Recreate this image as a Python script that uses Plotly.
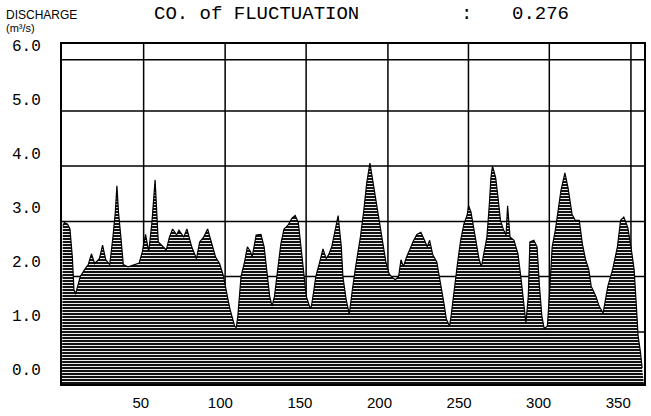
import plotly.graph_objects as go

# Day of year and daily discharge (m3/s)
days = [1, 2, 4, 5.5, 7, 8, 9, 12, 15, 17, 19, 21, 24, 26, 28, 30.5, 32.5, 34, 35, 36, 37.5, 39, 42, 46, 49,
        51, 53, 55, 57, 59, 60, 61, 64, 66, 68, 70, 72.5, 74, 77, 79, 82, 85, 87, 89.5, 92, 94.5, 97, 99.5,
        102, 104, 106, 109, 110, 111, 113, 115, 117, 119, 120, 122.5, 125.5, 127.5, 129.5, 131, 132.5, 134,
        135.5, 138, 140, 142.5, 145, 147, 149, 150, 152, 154, 156, 157, 158.5, 160, 162, 164.5, 166.5, 168,
        170, 172, 174, 176, 177, 179, 181, 183, 184, 185, 187, 188, 190, 192, 194, 195, 196.5, 198, 199.5,
        201.5, 204, 206, 208, 210, 212, 213.5, 215, 217, 219.5, 221.5, 223.5, 226, 228, 230, 231.5, 233.5,
        236, 238.5, 240.5, 242, 244, 245, 247, 249, 251, 253, 255, 256, 257.5, 259, 260.5, 262.5, 264, 265.5,
        267.5, 269, 270, 271, 273, 274.5, 276, 278, 279.5, 280.5, 282, 284.5, 287, 289, 291, 292, 293.5,
        294.5, 297, 299, 300.5, 302, 303.5, 305.5, 307, 308.5, 310.5, 312, 314, 316.5, 318.5, 321, 323,
        325.5, 327.5, 329.5, 331.5, 333, 336, 338, 340.5, 343.5, 346.5, 349.5, 351.5, 353.5, 356, 358, 360,
        361.5, 362.5, 364, 365]
discharge = [2.66, 2.72, 2.69, 2.60, 2.08, 1.48, 1.39, 1.72, 1.86, 1.94, 2.14, 1.96, 2.05, 2.30, 2.03, 1.94,
             2.45, 2.91, 3.40, 2.91, 2.45, 1.94, 1.90, 1.94, 1.97,
             2.18, 2.50, 2.18, 2.72, 3.51, 2.91, 2.36, 2.27, 2.21, 2.45, 2.60, 2.49, 2.58, 2.45, 2.60, 2.27,
             2.05, 2.36, 2.45, 2.60, 2.36, 2.08, 1.96,
             1.72, 1.41, 1.12, 0.80, 0.77, 0.99, 1.72, 1.96, 2.27, 2.18, 2.08, 2.49, 2.50, 2.27, 1.72, 1.35,
             1.17, 1.35,
             1.72, 2.32, 2.60, 2.67, 2.80, 2.85, 2.72, 2.45, 1.90, 1.35, 1.17, 1.13, 1.41, 1.72, 1.94, 2.23,
             2.05, 2.12,
             2.27, 2.54, 2.85, 2.27, 1.72, 1.30, 1.02, 1.48, 1.72, 1.90, 2.27, 2.45, 2.91, 3.46, 3.82, 3.64,
             3.36, 3.05, 2.76,
             2.39, 1.99, 1.77, 1.70, 1.66, 1.72, 2.03, 1.90, 2.08, 2.27, 2.39, 2.50, 2.54, 2.41, 2.27, 2.39,
             2.12,
             1.99, 1.59, 1.22, 0.93, 0.80, 0.99, 1.54, 1.96, 2.39, 2.69, 2.85, 3.03, 2.91, 2.63, 2.41, 2.05,
             1.90, 2.12,
             2.45, 3.05, 3.55, 3.77, 3.55, 3.18, 2.76, 2.58, 2.49, 3.03, 2.45, 2.39, 2.14, 1.66, 1.17, 0.86,
             1.35,
             2.36, 2.39, 2.27, 1.54, 0.99, 0.75, 0.80, 1.48, 2.27, 2.58, 2.94, 3.31, 3.64, 3.36, 2.87, 2.76,
             2.76, 2.32, 2.03, 1.85, 1.54, 1.35, 1.17, 1.04, 1.54, 1.85, 2.27, 2.76, 2.82, 2.63, 2.27, 1.85,
             1.12, 0.62, 0.31, 0.02]

y_ticks = [0, 1, 2, 3, 4, 5, 6]
y_tick_text = ["0.0", "1.0", "2.0", "3.0", "4.0", "5.0", "6.0"]
x_ticks = [50, 100, 150, 200, 250, 300, 350]
coef_fluct = "0.276"

# chart frame (axis units)
y_min, y_max = -0.274, 6.03
x_min, x_max = 0.5, 366.2
grid_y = [0.69, 1.72, 2.74, 3.77, 4.79, 5.74]
grid_x = [51.8, 103.0, 153.9, 205.3, 255.9, 306.7, 358.0]

fig = go.Figure()
fig.add_trace(go.Scatter(x=[x_min, x_max], y=[y_min, y_min], mode="lines",
                         line=dict(width=0, color="black"), showlegend=False, hoverinfo="skip"))
fig.add_trace(go.Scatter(x=days, y=discharge, mode="lines", fill="tonexty",
                         line=dict(color="black", width=1.2),
                         fillcolor="#121212",
                         fillpattern=dict(shape="-", fgcolor="#f0f0f0", bgcolor="#121212",
                                          size=3, solidity=0.33, fillmode="replace"),
                         showlegend=False))

for gy in grid_y:
    fig.add_shape(type="line", x0=x_min, x1=x_max, y0=gy, y1=gy, xref="x", yref="y",
                  line=dict(color="black", width=1.5), layer="below")
for gx in grid_x:
    fig.add_shape(type="line", x0=gx, x1=gx, y0=y_min, y1=y_max, xref="x", yref="y",
                  line=dict(color="black", width=1.5), layer="below")


def px(xp, yp):
    return (xp - 62) / (646 - 62), (389 - yp) / (389 - 44)


anns = []
ax, ay = px(4, 15)
anns.append(dict(text="DISCHARGE", x=ax, y=ay, xref="paper", yref="paper", xanchor="left",
                 yanchor="middle", showarrow=False,
                 font=dict(family="Liberation Sans", size=12, color="black")))
ax, ay = px(4, 28)
anns.append(dict(text="(m³/s)", x=ax, y=ay, xref="paper", yref="paper", xanchor="left",
                 yanchor="middle", showarrow=False,
                 font=dict(family="Liberation Sans", size=11, color="black")))
ax, ay = px(152, 14)
anns.append(dict(text="CO. of FLUCTUATION", x=ax, y=ay, xref="paper", yref="paper", xanchor="left",
                 yanchor="middle", showarrow=False,
                 font=dict(family="Liberation Mono, Courier New", size=19, color="black")))
ax, ay = px(468, 14)
anns.append(dict(text=":", x=ax, y=ay, xref="paper", yref="paper", xanchor="center",
                 yanchor="middle", showarrow=False,
                 font=dict(family="Liberation Mono, Courier New", size=19, color="black")))
ax, ay = px(512, 14)
anns.append(dict(text=coef_fluct, x=ax, y=ay, xref="paper", yref="paper", xanchor="left",
                 yanchor="middle", showarrow=False,
                 font=dict(family="Liberation Mono, Courier New", size=19, color="black")))

fig.update_layout(
    width=651, height=416,
    margin=dict(l=62, r=5, t=44, b=27),
    paper_bgcolor="white", plot_bgcolor="white",
    showlegend=False,
    xaxis=dict(range=[x_min, x_max], tickvals=x_ticks, showgrid=False, zeroline=False,
               showline=True, linecolor="black", linewidth=2, mirror=True,
               ticks="outside", ticklen=4, tickcolor="rgba(0,0,0,0)",
               tickfont=dict(family="Liberation Sans, Arial", size=15, color="black")),
    yaxis=dict(range=[y_min, y_max], tickvals=y_ticks, ticktext=y_tick_text, showgrid=False,
               zeroline=False, showline=True, linecolor="black", linewidth=2, mirror=True,
               ticks="outside", ticklen=16, tickcolor="rgba(0,0,0,0)",
               tickfont=dict(family="Liberation Mono, Courier New", size=16, color="black")),
    annotations=anns,
)

fig.write_html("out.html", config={"displayModeBar": False},
               post_script="document.body.style.margin='0';document.body.style.overflow='hidden';")
